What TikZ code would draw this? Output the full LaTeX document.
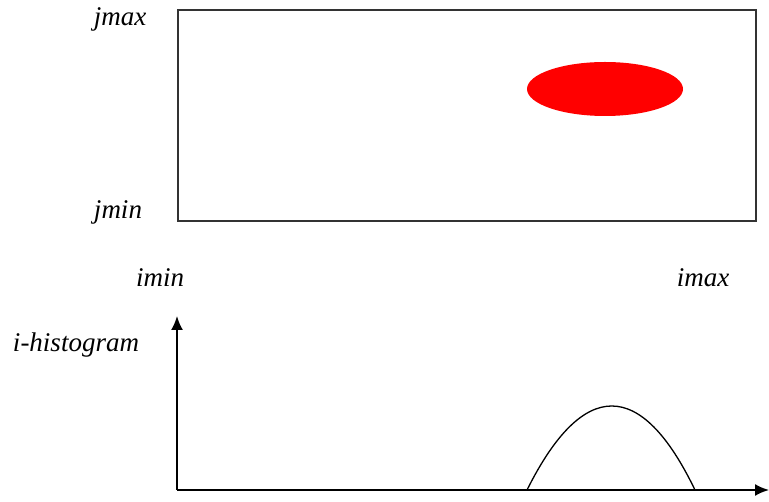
\documentclass[tikz,border=0pt]{standalone}
\usepackage{fontspec}
\setmainfont{Liberation Serif}
\usetikzlibrary{arrows.meta,shapes.geometric}
\begin{document}
\begin{tikzpicture}[x=1pt,y=-1pt,
  lbl/.style={font=\fontsize{27}{30}\selectfont\itshape, inner sep=0pt},
  frame/.style={draw=black!80, line width=1.6pt},
  axis/.style={draw=black, line width=2pt, -{Latex[length=14pt,width=12pt]}},
  blob/.style={fill=red, draw=none}]
\useasboundingbox (0,0) rectangle (769,502);
\node[frame, minimum width=578pt, minimum height=211pt, anchor=north west, inner sep=0pt] (img) at (177,9) {};
\node[blob, ellipse, minimum width=156pt, minimum height=54pt, inner sep=0pt] (spot) at (605,89) {};
\node[lbl] (jmax) at (120,19) {jmax};
\node[lbl] (jmin) at (118,212) {jmin};
\node[lbl] (imin) at (160,278) {imin};
\node[lbl] (imax) at (703,278) {imax};
\node[lbl] (hist) at (76,345) {i-histogram};
\coordinate (o) at (177,490);
\coordinate (ytop) at (177,316);
\coordinate (xend) at (769,490);
\coordinate (c0) at (527,490);
\coordinate (c1) at (695,490);
\draw[axis] (o) -- (ytop);
\draw[axis] (o) -- (xend);
\draw[line width=1.3pt] (c0) .. controls (583,378) and (641,378) .. (c1);
\end{tikzpicture}
\end{document}
